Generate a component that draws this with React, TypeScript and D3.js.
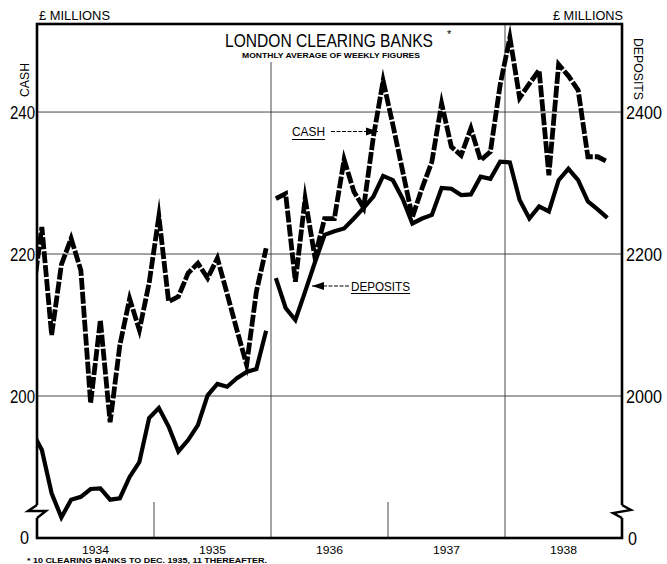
import * as d3 from 'd3'
import { useEffect, useRef } from 'react'

const W = 667
const H = 564

// month index: 0 = Jan 1934. first value is Dec 1933, cut off by the axis
const start1 = -1
const cash1934_35 = [213.5, 223.8, 208.6, 218.5, 222.2, 217.7, 199.0, 210.7, 196.3, 207.2, 213.7, 209.3, 215.9,
    225.3, 213.3, 214.0, 217.3, 218.7, 216.6, 219.4, 214.4, 209.3, 204.4, 214.7, 220.8]
const deposits1934_35 = [1950, 1924, 1863, 1829, 1854, 1858, 1869, 1870, 1854, 1856, 1886, 1907, 1969,
    1983, 1957, 1922, 1938, 1959, 2001, 2017, 2013, 2025, 2034, 2038, 2092]

// 11 banks from Jan 1936
const start2 = 24
const cash1936_38 = [227.8, 228.5, 216.1, 227.8, 219.6, 225.0, 225.0, 233.3, 228.8, 226.5, 236.5, 244.4,
    238.2, 231.7, 225.2, 229.3, 233.0, 241.2, 235.1, 233.9, 237.7, 233.2, 234.4, 243.8,
    250.5, 242.0, 244.0, 245.9, 231.1, 246.7, 245.1, 243.1, 233.7, 233.7, 233.0]
const deposits1936_38 = [2166, 2124, 2107, 2147, 2188, 2227, 2232, 2236, 2250, 2265, 2281, 2310,
    2304, 2278, 2243, 2250, 2255, 2293, 2292, 2283, 2284, 2309, 2306, 2330,
    2329, 2276, 2250, 2267, 2260, 2304, 2320, 2304, 2274, 2263, 2251]

const years = ['1934', '1935', '1936', '1937', '1938']
const cashTicks = [200, 220, 240]
const depositTicks = [2000, 2200, 2400]

const FONT = "'Liberation Sans', Arial, sans-serif"

export default function App() {
    const svgRef = useRef(null) as any

    useEffect(() => {
        const left = 37, right = 622, top = 24, bottom = 538

        const x = d3.scaleLinear().domain([-0.5, 59.5]).range([left, right])
        const yCash = d3.scaleLinear().domain([180, 252.4]).range([bottom, top])
        const yDep = d3.scaleLinear().domain([1800, 2524]).range([bottom, top])

        const svg = d3.select(svgRef.current)
        svg.selectAll('*').remove()

        svg.append('rect').attr('width', W).attr('height', H).attr('fill', '#fff')

        svg.append('defs').append('clipPath').attr('id', 'plot')
            .append('rect').attr('x', left).attr('y', top)
            .attr('width', right - left).attr('height', bottom - top)

        // grid
        svg.append('g').selectAll('line')
            .data(cashTicks)
            .join('line')
            .attr('x1', left).attr('x2', right)
            .attr('y1', d => yCash(d)).attr('y2', d => yCash(d))
            .attr('stroke', '#333').attr('stroke-width', 0.9)

        // year boundaries: full lines at end of 1935 and 1937, short ticks otherwise
        const bounds = [11.5, 23.5, 35.5, 47.5]
        svg.append('g').selectAll('line')
            .data(bounds)
            .join('line')
            .attr('x1', d => x(d)).attr('x2', d => x(d))
            .attr('y1', (d, i) => i === 0 || i === 2 ? 502 : (i === 1 ? 62 : top))
            .attr('y2', bottom)
            .attr('stroke', '#333').attr('stroke-width', 0.9)

        const line = (base: number, ys: any) => d3.line<number>()
            .x((d, i) => x(base + i))
            .y(d => ys(d))

        const plot = svg.append('g').attr('clip-path', 'url(#plot)')

        const solid = [[start1, deposits1934_35], [start2, deposits1936_38]] as [number, number[]][]
        solid.forEach(([s, vals]) => {
            plot.append('path')
                .attr('d', line(s, yDep)(vals))
                .attr('fill', 'none').attr('stroke', '#000').attr('stroke-width', 4.2)
                .attr('stroke-linejoin', 'miter').attr('stroke-miterlimit', 6)
        })

        const dashed = [[start1, cash1934_35], [start2, cash1936_38]] as [number, number[]][]
        dashed.forEach(([s, vals]) => {
            plot.append('path')
                .attr('d', line(s, yCash)(vals))
                .attr('fill', 'none').attr('stroke', '#000').attr('stroke-width', 4.8)
                .attr('stroke-dasharray', '12 2')
                .attr('stroke-linejoin', 'miter').attr('stroke-miterlimit', 8)
        })

        // frame
        svg.append('rect')
            .attr('x', left).attr('y', top)
            .attr('width', right - left).attr('height', bottom - top)
            .attr('fill', 'none').attr('stroke', '#000').attr('stroke-width', 2.6)

        // axis breaks
        svg.append('rect').attr('x', left - 3).attr('y', 505).attr('width', 6).attr('height', 13).attr('fill', '#fff')
        svg.append('path').attr('d', `M${left},505 L${left - 9},511 L${left + 9},511 L${left},518`)
            .attr('fill', 'none').attr('stroke', '#000').attr('stroke-width', 2.4)
        svg.append('rect').attr('x', right - 3).attr('y', 505).attr('width', 6).attr('height', 13).attr('fill', '#fff')
        svg.append('path').attr('d', `M${right},505 L${right + 9},510 L${right - 9},513 L${right},518`)
            .attr('fill', 'none').attr('stroke', '#000').attr('stroke-width', 2.4)

        const txt = (s: string, tx: number, ty: number, size: number, anchor: string, len?: number) => {
            const t = svg.append('text')
                .attr('x', tx).attr('y', ty)
                .attr('font-family', FONT).attr('font-size', size)
                .attr('text-anchor', anchor).attr('fill', '#000')
                .text(s)
            if (len) t.attr('textLength', len).attr('lengthAdjust', 'spacingAndGlyphs')
            return t
        }

        // tick labels
        cashTicks.forEach(d => txt(String(d), 35, yCash(d) + 7, 19, 'end', 25))
        depositTicks.forEach(d => txt(String(d), 626, yDep(d) + 7, 19, 'start', 36))
        txt('0', 29, bottom + 6, 18, 'end', 9)
        txt('0', 628, bottom + 7, 18, 'start', 9)

        years.forEach((yr, i) => txt(yr, x(12 * i + 5.5), 554, 11.5, 'middle', 27))

        // units and axis titles
        txt('£ MILLIONS', 39, 20, 12, 'start', 71)
        txt('£ MILLIONS', 623, 20, 12, 'end', 70)
        txt('CASH', 0, 0, 12, 'middle', 34).attr('transform', 'translate(29,80) rotate(-90)')
        txt('DEPOSITS', 0, 0, 12, 'middle', 62).attr('transform', 'translate(634,69) rotate(90)')

        // title: narrow lettering, stretched upward instead of squeezed
        txt('LONDON CLEARING BANKS', 0, 0, 16, 'start', 208)
            .attr('transform', 'translate(225,47) scale(1,1.15)')
        txt('*', 447, 38, 11, 'start')
        txt('MONTHLY AVERAGE OF WEEKLY FIGURES', 331, 58, 6.5, 'middle', 178).attr('font-weight', 'bold')

        // annotations
        const arrow = (x1: number, x2: number, yy: number) => {
            svg.append('line').attr('x1', x1).attr('x2', x2).attr('y1', yy).attr('y2', yy)
                .attr('stroke', '#000').attr('stroke-width', 1).attr('stroke-dasharray', '4 1.5')
            const dir = x2 > x1 ? 1 : -1
            svg.append('path')
                .attr('d', `M${x2},${yy} L${x2 - dir * 12},${yy - 4} L${x2 - dir * 12},${yy + 4} Z`)
                .attr('fill', '#000')
        }
        txt('CASH', 292, 136, 12.5, 'start', 33)
        svg.append('line').attr('x1', 292).attr('x2', 325).attr('y1', 139.5).attr('y2', 139.5).attr('stroke', '#000').attr('stroke-width', 1)
        arrow(331, 378, 131.5)

        txt('DEPOSITS', 351, 290.5, 12.5, 'start', 59)
        svg.append('line').attr('x1', 351).attr('x2', 410).attr('y1', 293.5).attr('y2', 293.5).attr('stroke', '#000').attr('stroke-width', 1)
        arrow(349, 312, 286)

        // footnote
        txt('* 10 CLEARING BANKS TO DEC. 1935, 11 THEREAFTER.', 27, 562.5, 6.5, 'start', 240).attr('font-weight', 'bold')
    }, [])

    return (
        <div style={{ position: 'absolute', left: 0, top: 0 }}>
            <svg ref={svgRef} width={W} height={H} style={{ display: 'block' }} />
        </div>
    )
}
